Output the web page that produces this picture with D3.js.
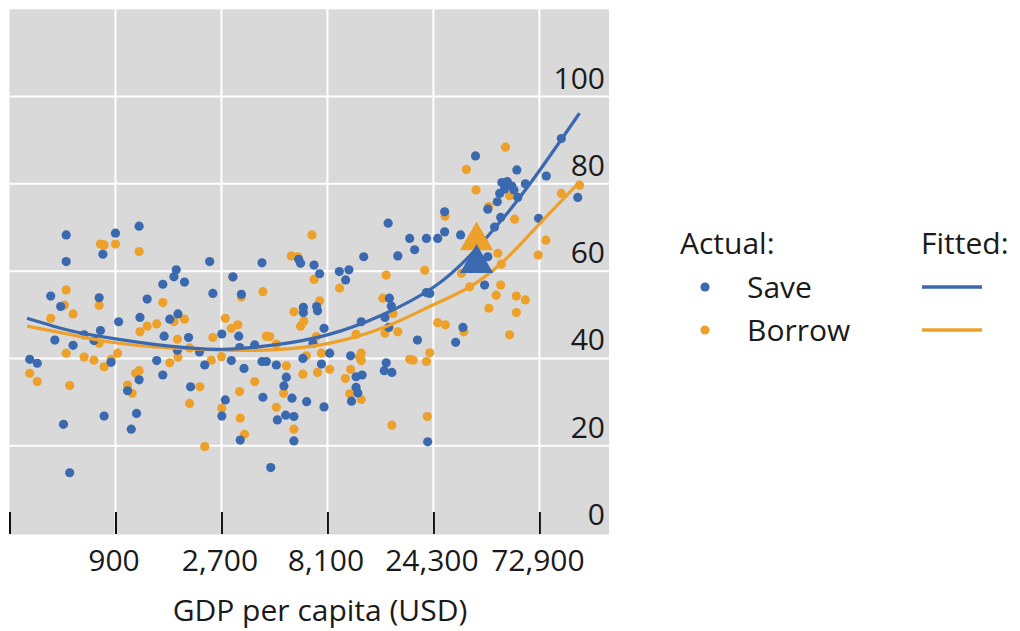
<!DOCTYPE html>
<html>
<head>
<meta charset="utf-8">
<script src="https://cdn.jsdelivr.net/npm/d3@7"></script>
<style>
  body { margin: 0; background: #fff; }
  text { font-family: "Open Sans", "Noto Sans", sans-serif; fill: #1a1a1a; }
</style>
</head>
<body>
<svg id="chart" width="1020" height="631"></svg>
<script>
// Share of adults who saved / borrowed (%) against GDP per capita (USD, log scale)

const saveGdp = [540, 540, 900, 1150, 790, 1690, 1650, 1840, 1470, 460, 760, 510, 1250, 930, 1160, 1580, 1720, 1490, 1920, 480,
  580, 650, 720, 770, 370, 400, 860, 1380, 1470, 1150, 1020, 1960, 1710, 2150, 2270, 525, 800, 1120, 1060, 560,
  2390, 4110, 6010, 6130, 7050, 7470, 9160, 3040, 2470, 3320, 6310, 6310, 7240, 7310, 7820, 2710, 3230, 3810, 3260, 6970,
  2990, 3410, 4110, 4300, 4770, 6280, 8290, 7610, 5290, 5160, 4150, 2810, 5610, 6530, 7820, 2710, 4820, 5250, 5720, 3280,
  5720, 4500, 15200, 10120, 9780, 11800, 11500, 15400, 15700, 14700, 15300, 10300, 14900, 14600, 15800, 10900, 11600, 10900, 11100, 10400,
  16800, 37600, 57700, 78300, 91500, 108500, 49400, 52300, 54800, 50800, 48300, 56000, 63000, 58300, 47100, 42700, 48800, 72300, 27300, 45800,
  32200, 27300, 25400, 22600, 19000, 20000, 42700, 41300, 33000, 30600, 20600, 22900, 22600, 23400];
const saveShare = [68.3, 62.2, 68.7, 70.3, 63.9, 60.3, 58.7, 57.5, 57.0, 54.3, 53.9, 51.9, 53.6, 48.4, 49.4, 49.0, 50.2, 45.1, 44.8, 44.2,
  43.0, 45.4, 44.1, 46.4, 39.8, 38.9, 39.1, 39.5, 36.2, 35.1, 32.6, 33.5, 41.9, 41.5, 38.5, 24.9, 26.8, 27.4, 23.8, 13.8,
  62.2, 61.9, 62.7, 61.8, 61.4, 59.4, 59.9, 58.7, 54.9, 54.7, 51.7, 50.5, 51.9, 50.9, 46.9, 45.6, 45.1, 43.1, 42.5, 43.5,
  39.5, 37.7, 39.3, 39.3, 38.5, 40.0, 41.2, 38.7, 35.7, 33.7, 31.1, 30.5, 30.9, 30.1, 28.9, 26.8, 25.9, 27.0, 26.7, 21.3,
  21.1, 15.0, 71.0, 60.3, 58.0, 63.3, 48.4, 53.8, 52.0, 49.4, 47.1, 40.6, 39.0, 37.2, 36.8, 35.8, 36.2, 33.4, 32.1, 30.2,
  63.5, 86.4, 83.2, 81.8, 90.4, 76.9, 80.3, 80.5, 79.5, 78.8, 77.8, 78.6, 80.0, 76.9, 75.9, 74.2, 72.3, 72.1, 73.6, 70.1,
  68.3, 69.0, 67.5, 67.5, 67.5, 64.9, 63.3, 56.8, 47.1, 43.7, 44.2, 20.9, 55.1, 54.9];

const borrowGdp = [770, 800, 900, 1150, 540, 530, 580, 460, 760, 1470, 1840, 1380, 1250, 1160, 1650, 1710, 760, 540, 650, 720,
  800, 920, 860, 370, 400, 560, 1150, 1110, 1020, 1070, 1580, 1720, 2160, 1940, 2270, 1940, 2430, 2700, 6900, 5570,
  5960, 7050, 7470, 9190, 3040, 3320, 4150, 2810, 2990, 3200, 2470, 5720, 6340, 6130, 4300, 4450, 7220, 5290, 6280, 7310,
  8290, 7610, 6510, 3810, 3260, 5140, 4770, 2710, 3280, 5720, 3430, 14900, 14400, 16000, 10900, 14700, 9750, 10300, 11500, 11300,
  11500, 10200, 11500, 15800, 16800, 22200, 19000, 19700, 23400, 22600, 22800, 25400, 27500, 33300, 53500, 48800, 46600, 57400, 63000, 43200,
  57400, 35400, 51300, 34200, 37800, 43100, 53500, 56400, 78000, 72000, 91500, 110600, 27400, 47400, 32500, 49100, 4770];
const borrowShare = [66.2, 66.0, 66.2, 64.5, 55.7, 52.2, 50.2, 49.2, 52.2, 52.8, 49.0, 47.9, 47.4, 46.1, 48.4, 44.4, 43.5, 41.2, 40.3, 39.6,
  38.1, 41.2, 39.8, 36.6, 34.7, 33.8, 37.2, 36.6, 33.9, 32.0, 39.0, 40.3, 33.5, 29.7, 19.8, 42.4, 39.6, 40.4, 68.3, 63.5,
  63.3, 58.1, 53.2, 56.1, 58.6, 54.1, 55.3, 49.2, 46.9, 47.7, 44.8, 50.7, 48.6, 47.4, 45.1, 45.0, 45.0, 38.3, 36.4, 36.8,
  37.5, 41.2, 40.6, 34.7, 32.4, 32.0, 28.8, 28.6, 26.3, 23.8, 22.6, 59.1, 53.8, 50.3, 45.5, 45.8, 35.4, 37.5, 41.2, 40.3,
  39.5, 31.9, 30.6, 24.7, 46.1, 60.2, 39.8, 39.6, 41.3, 39.3, 26.7, 48.2, 47.7, 46.1, 45.4, 56.8, 54.5, 54.3, 53.4, 51.5,
  50.5, 56.4, 88.4, 83.3, 78.6, 74.8, 77.3, 71.9, 67.1, 63.7, 77.8, 79.7, 72.6, 64.1, 59.5, 61.6, 43.3];

// Fitted curves, sampled along GDP per capita
const fitGdp = [360, 560, 900, 1580, 2700, 4700, 8100, 14200, 24300, 35400, 50800, 72900, 110500];
const fitSave = [49.2, 46.4, 44.5, 42.8, 42.1, 43.1, 45.4, 49.9, 56.3, 63.5, 72.5, 83.0, 96.2];
const fitBorrow = [47.4, 45.5, 43.6, 42.4, 41.9, 42.0, 43.4, 46.9, 52.3, 56.4, 62.5, 70.8, 80.4];

// Highlighted economy (triangles)
const markGdp = 38000;
const markSave = 61.8;
const markBorrow = 67.0;

const xTicks = [300, 900, 2700, 8100, 24300, 72900];
const xTickLabels = ["", "900", "2,700", "8,100", "24,300", "72,900"];
const yTicks = [0, 20, 40, 60, 80, 100];

const BLUE = "#3a69b0";
const ORANGE = "#eea12a";

const svg = d3.select("#chart");
const plot = { left: 9.5, right: 609, top: 9.3, bottom: 533 };

const x = d3.scaleLog().base(3).domain([300, 150000]).range([plot.left, plot.right]);
const y = d3.scaleLinear().domain([0, 120]).range([plot.bottom, plot.top]);

// panel
svg.append("rect")
  .attr("x", plot.left).attr("y", plot.top)
  .attr("width", plot.right - plot.left).attr("height", plot.bottom - plot.top + 1.5)
  .attr("fill", "#d9d9d9");

// grid
const grid = svg.append("g").attr("stroke", "#fff").attr("stroke-width", 2);
grid.selectAll("line.v").data(xTicks.slice(1)).join("line")
  .attr("x1", d => x(d)).attr("x2", d => x(d))
  .attr("y1", plot.top).attr("y2", plot.bottom + 1.5);
grid.selectAll("line.h").data(yTicks.slice(1)).join("line")
  .attr("x1", plot.left).attr("x2", plot.right)
  .attr("y1", d => y(d)).attr("y2", d => y(d));

// y labels, sitting above their gridlines at the right of the panel
svg.append("g").selectAll("text").data(yTicks).join("text")
  .attr("x", 605).attr("y", d => y(d) - 8)
  .attr("text-anchor", "end")
  .attr("font-size", 30)
  .text(d => d);

// x axis ticks and labels
const xAxis = d3.axisBottom(x)
  .tickValues(xTicks)
  .tickFormat((d, i) => xTickLabels[i])
  .tickSize(22)
  .tickPadding(16);
const gx = svg.append("g")
  .attr("transform", `translate(0,${plot.bottom - 21})`)
  .call(xAxis);
gx.select(".domain").remove();
gx.selectAll(".tick line").attr("stroke", "#111").attr("stroke-width", 2);
gx.selectAll(".tick text")
  .attr("font-size", 30)
  .attr("font-family", '"Open Sans", sans-serif')
  .attr("fill", "#1a1a1a")
  .attr("dx", -2);

svg.append("text")
  .attr("x", 320).attr("y", 621)
  .attr("text-anchor", "middle")
  .attr("font-size", 30)
  .text("GDP per capita (USD)");

// scatter
const R = 4.6;
const dots = svg.append("g");
dots.selectAll("circle.b").data(d3.range(borrowGdp.length)).join("circle")
  .attr("cx", i => x(borrowGdp[i])).attr("cy", i => y(borrowShare[i]))
  .attr("r", R).attr("fill", ORANGE);
dots.selectAll("circle.s").data(d3.range(saveGdp.length)).join("circle")
  .attr("cx", i => x(saveGdp[i])).attr("cy", i => y(saveShare[i]))
  .attr("r", R).attr("fill", BLUE);

// fitted curves
const fitLine = vals => d3.line()
  .x((d, i) => x(fitGdp[i]))
  .y((d, i) => y(vals[i]))
  .curve(d3.curveNatural)(vals);
svg.append("path").attr("d", fitLine(fitBorrow))
  .attr("fill", "none").attr("stroke", ORANGE).attr("stroke-width", 3.2);
svg.append("path").attr("d", fitLine(fitSave))
  .attr("fill", "none").attr("stroke", BLUE).attr("stroke-width", 3.2);

// highlighted economy
const tri = d3.symbol().type(d3.symbolTriangle).size(480);
svg.append("path").attr("d", tri())
  .attr("transform", `translate(${x(markGdp)},${y(markBorrow)})`)
  .attr("fill", ORANGE);
svg.append("path").attr("d", tri())
  .attr("transform", `translate(${x(markGdp)},${y(markSave)})`)
  .attr("fill", BLUE);

// legend
const lg = svg.append("g").attr("font-size", 30);
lg.append("text").attr("x", 680).attr("y", 254).text("Actual:");
lg.append("text").attr("x", 921).attr("y", 254).text("Fitted:");
const series = [
  { name: "Save", color: BLUE, yy: 287 },
  { name: "Borrow", color: ORANGE, yy: 330 }
];
series.forEach(s => {
  lg.append("circle").attr("cx", 705).attr("cy", s.yy).attr("r", R).attr("fill", s.color);
  lg.append("text").attr("x", 747).attr("y", s.yy + 11).text(s.name);
  lg.append("line").attr("x1", 922).attr("x2", 982).attr("y1", s.yy).attr("y2", s.yy)
    .attr("stroke", s.color).attr("stroke-width", 3.5);
});
</script>
</body>
</html>
